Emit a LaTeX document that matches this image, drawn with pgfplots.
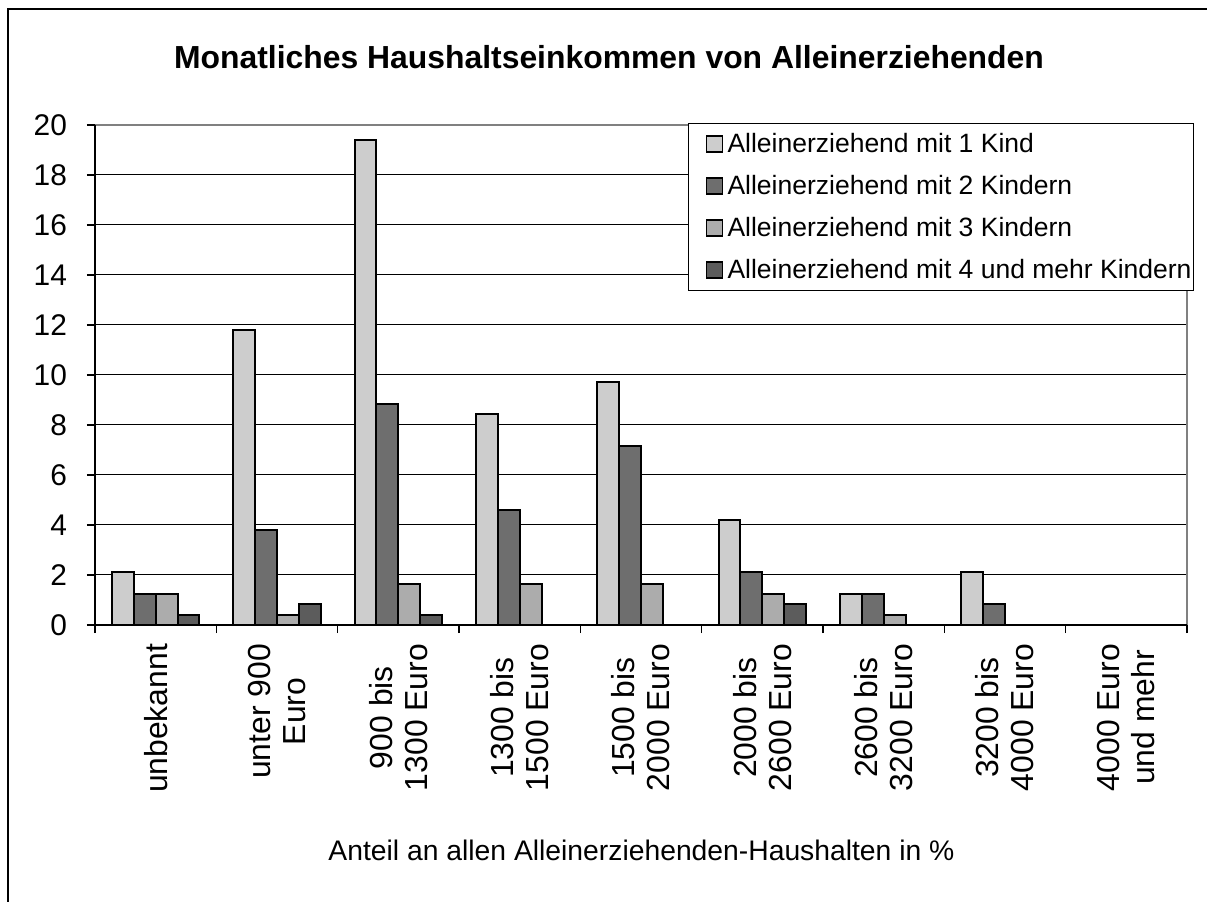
\documentclass[border=0pt]{standalone}
\usepackage{pgfplots}
\pgfplotsset{compat=1.18}
\usepackage{fontspec}
\setmainfont{Liberation Sans}
\definecolor{cA}{RGB}{205,205,205}
\definecolor{cB}{RGB}{110,110,110}
\definecolor{cC}{RGB}{172,172,172}
\definecolor{cD}{RGB}{92,92,92}
\begin{document}
\begin{tikzpicture}
\path[use as bounding box] (0,0) rectangle (603.5bp,451bp);
\draw[line width=0.9bp] (4bp,-10bp) -- (4bp,446.5bp) -- (620bp,446.5bp);
\node[font=\fontsize{16}{19}\selectfont\bfseries] at (304.5bp,422.5bp) {Monatliches Haushaltseinkommen von Alleinerziehenden};
\node[font=\fontsize{14.2}{17}\selectfont] at (320.75bp,26bp) {Anteil an allen Alleinerziehenden-Haushalten in \%};
\begin{axis}[
  at={(47.5bp,138.5bp)}, anchor=south west,
  scale only axis, width=546bp, height=250bp,
  ybar=0pt, bar width=0.18,
  xmin=-0.5, xmax=8.5, ymin=0, ymax=20,
  ytick={0,2,...,20},
  xtick={0,...,8},
  xticklabels={unbekannt,{unter 900\\Euro},{900 bis\\1300 Euro},{1300 bis\\1500 Euro},{1500 bis\\2000 Euro},{2000 bis\\2600 Euro},{2600 bis\\3200 Euro},{3200 bis\\4000 Euro},{4000 Euro\\und mehr}},
  minor xtick={-0.5,0.5,...,8.5},
  major x tick style={draw=none},
  minor tick length=4bp, major tick length=4bp,
  tick align=outside, tick pos=left,
  tick style={black, line width=0.6bp},
  ymajorgrids, grid style={black, line width=0.5bp},
  axis line style={draw=none},
  xticklabel style={rotate=90, anchor=east, align=center, font=\fontsize{16}{17.5}\selectfont, xshift=-2bp},
  yticklabel style={font=\fontsize{15}{17}\selectfont, xshift=-6.5bp},
  /pgf/number format/assume math mode=true,
  legend style={at={(0.543,1.004)}, anchor=north west, draw=black, line width=0.6bp,
    font=\fontsize{13.3}{15}\selectfont, row sep=5.9bp, inner xsep=0bp, inner ysep=2.7bp,
    nodes={inner xsep=1bp},
    legend cell align=left},
  legend image code/.code={\path (0bp,0bp) (17.5bp,0bp);\draw[#1, line width=0.8bp] (8.5bp,-4bp) rectangle (16.5bp,4bp);},
  every axis plot/.append style={draw=black, line width=1bp},
  clip=false,
]
\draw[gray, line width=1bp] (rel axis cs:0,1) -- (rel axis cs:1,1) -- (rel axis cs:1,0);
\addplot[fill=cA] coordinates {(0,2.1) (1,11.8) (2,19.4) (3,8.45) (4,9.7) (5,4.2) (6,1.25) (7,2.1) (8,0)};
\addplot[fill=cB] coordinates {(0,1.25) (1,3.8) (2,8.85) (3,4.6) (4,7.15) (5,2.1) (6,1.25) (7,0.85) (8,0)};
\addplot[fill=cC] coordinates {(0,1.25) (1,0.4) (2,1.65) (3,1.65) (4,1.65) (5,1.25) (6,0.4) (7,0) (8,0)};
\addplot[fill=cD] coordinates {(0,0.4) (1,0.85) (2,0.4) (3,0) (4,0) (5,0.85) (6,0) (7,0) (8,0)};
\draw[black, line width=1bp] (rel axis cs:0,1) -- (rel axis cs:0,0) -- (rel axis cs:1,0);
\legend{Alleinerziehend mit 1 Kind,Alleinerziehend mit 2 Kindern,Alleinerziehend mit 3 Kindern,Alleinerziehend mit 4 und mehr Kindern}
\end{axis}
\end{tikzpicture}
\end{document}
